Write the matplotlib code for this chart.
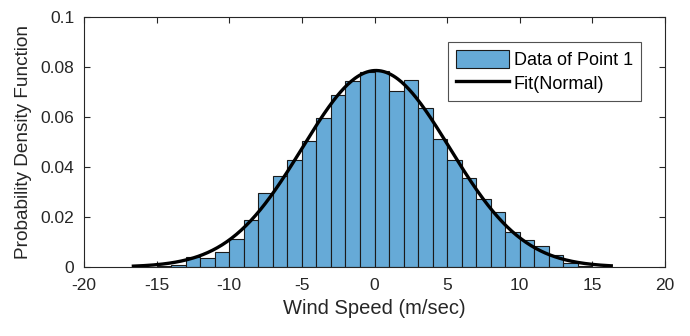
import numpy as np
import matplotlib
matplotlib.use("Agg")
import matplotlib.pyplot as plt

plt.rcParams['font.family'] = ['Liberation Sans', 'DejaVu Sans']

# Histogram bins (left edges, width 1 m/sec) and normalized densities
bin_left = [-15, -14, -13, -12, -11, -10, -9, -8, -7, -6, -5, -4, -3, -2, -1,
            0, 1, 2, 3, 4, 5, 6, 7, 8, 9, 10, 11, 12, 13, 14]
density = [0.0003, 0.0008, 0.0040, 0.0037, 0.0062, 0.0111, 0.0190, 0.0297,
           0.0364, 0.0430, 0.0505, 0.0595, 0.0690, 0.0746, 0.0782,
           0.0786, 0.0704, 0.0748, 0.0635, 0.0511, 0.0430, 0.0358, 0.0274,
           0.0221, 0.0140, 0.0107, 0.0084, 0.0050, 0.0016, 0.0005]
bin_width = 1.0

# Normal fit parameters
fit_mu = 0.1
fit_sigma = 5.07
fit_range = (-16.6, 16.3)

x_ticks = [-20, -15, -10, -5, 0, 5, 10, 15, 20]
y_ticks = [0, 0.02, 0.04, 0.06, 0.08, 0.1]
y_tick_labels = ['0', '0.02', '0.04', '0.06', '0.08', '0.1']

fig = plt.figure(figsize=(6.9, 3.36), dpi=100)
ax = fig.add_axes([84/690, 1-267/336, (665-84)/690, (267-17.3)/336])

bars = ax.bar(bin_left, density, width=bin_width, align='edge',
              color='#66AAD7', edgecolor='#1a1a1a', linewidth=0.8,
              label='Data of Point 1', zorder=2)

xf = np.linspace(fit_range[0], fit_range[1], 400)
yf = np.exp(-0.5*((xf-fit_mu)/fit_sigma)**2) / (fit_sigma*np.sqrt(2*np.pi))
line, = ax.plot(xf, yf, color='black', linewidth=2.4, label='Fit(Normal)', zorder=3)

ax.set_xlim(-20, 20)
ax.set_ylim(0, 0.1)
ax.set_xticks(x_ticks)
ax.set_xticklabels([str(t) for t in x_ticks])
ax.set_yticks(y_ticks)
ax.set_yticklabels(y_tick_labels)

axc = '#262626'
for s in ax.spines.values():
    s.set_color(axc)
    s.set_linewidth(0.8)
ax.tick_params(direction='in', length=4.3, width=0.8, color=axc,
               labelcolor=axc, labelsize=12.5, top=True, right=True)
ax.tick_params(axis='x', pad=8)
ax.tick_params(axis='y', pad=7)

ax.set_xlabel('Wind Speed (m/sec)', fontsize=14.5, color=axc, labelpad=4)
ax.set_ylabel('Probability Density Function', fontsize=13.7, color=axc, labelpad=6)

leg = ax.legend([bars, line], ['Data of Point 1', 'Fit(Normal)'],
                loc='upper right', bbox_to_anchor=(0.959, 0.9), fontsize=13,
                frameon=True, fancybox=False, edgecolor=axc,
                handlelength=2.9, handleheight=1.1, handletextpad=0.3,
                borderpad=0.45, labelspacing=0.25, borderaxespad=0)
leg.get_frame().set_linewidth(0.8)

fig.savefig('out.png', dpi=100)
